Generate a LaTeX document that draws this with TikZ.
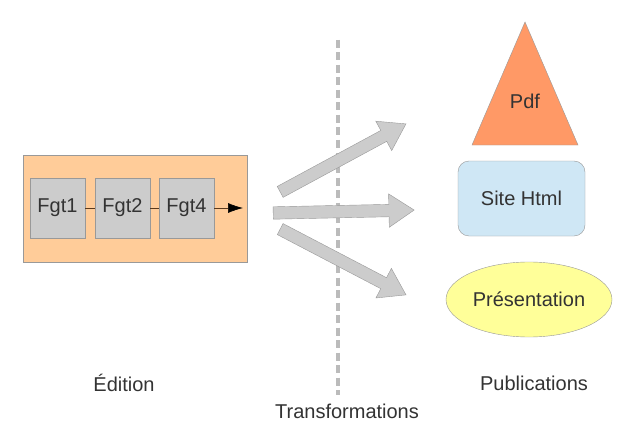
\documentclass[tikz,border=0pt]{standalone}
\usepackage{fontspec}
\setmainfont{Liberation Sans}
\usetikzlibrary{shapes.geometric,shapes.arrows,arrows.meta}
\definecolor{textgray}{HTML}{333333}
\definecolor{boxline}{HTML}{999999}
\definecolor{fgtgray}{HTML}{CCCCCC}
\definecolor{editorange}{HTML}{FFCC99}
\definecolor{pdforange}{HTML}{FF9966}
\definecolor{htmlblue}{HTML}{CFE7F5}
\definecolor{presyellow}{HTML}{FFFF99}
\definecolor{linkbrown}{HTML}{5A3A1E}
\definecolor{sepgray}{HTML}{BBBBBB}

\begin{document}
\begin{tikzpicture}
	[x=1pt,y=-1pt,
	 every node/.style={font=\fontsize{20}{24}\selectfont,text=textgray},
	 fgt/.style={rectangle,draw=boxline,fill=fgtgray,minimum width=55pt,minimum height=60pt,inner sep=0pt},
	 fatarrow/.style={single arrow,draw=boxline,fill=fgtgray,inner xsep=0pt,inner ysep=6pt,
	   single arrow head extend=10.5pt,single arrow tip angle=67,anchor=tail},
	 link/.style={draw=linkbrown,semithick},
	 >={Latex[length=15pt,width=10pt,color=black]}]
    \fill[white] (0,0) rectangle (630,436);
    \useasboundingbox (0,0) rectangle (630,436);
    % separation
    \draw[sepgray,line width=3.5pt,dash pattern=on 8pt off 4.5pt] (338,40) -- (338,395);
    % edition
    \node[rectangle,draw=boxline,fill=editorange,minimum width=224pt,minimum height=107pt] (edit) at (135,208.5) {};
    \node[fgt] (f1) at (57.5,208) {Fgt1};
    \node[fgt] (f2) at (122.5,208) {Fgt2};
    \node[fgt] (f4) at (186.5,208) {Fgt4};
    \coordinate (fend) at (243,208);
    \draw[link] (f1) -- (f2);
    \draw[link] (f2) -- (f4);
    \draw[link,->] (f4) -- (fend);
    % transformations
    \node[fatarrow,minimum height=143pt,rotate=28.4] (t1) at (280,192) {};
    \node[fatarrow,minimum height=141pt,rotate=1.2] (t2) at (273,213) {};
    \node[fatarrow,minimum height=142pt,rotate=-27.6] (t3) at (280,229) {};
    % publications
    \draw[draw=boxline,fill=pdforange] (525,22) -- (578,145) -- (472,145) -- cycle;
    \node (pdf) at (525,101) {Pdf};
    \node[rectangle,rounded corners=11pt,draw=boxline,fill=htmlblue,minimum width=127pt,minimum height=75pt] (html) at (521.5,198.5) {Site Html};
    \node[ellipse,draw=boxline,fill=presyellow,minimum width=166pt,minimum height=75pt,inner sep=0pt] (pres) at (529,299.5) {Présentation};
    % legends
    \node (edition) at (124,383) {Édition};
    \node (pub) at (534,383) {Publications};
    \node (trans) at (347,411) {Transformations};
\end{tikzpicture}
\end{document}
